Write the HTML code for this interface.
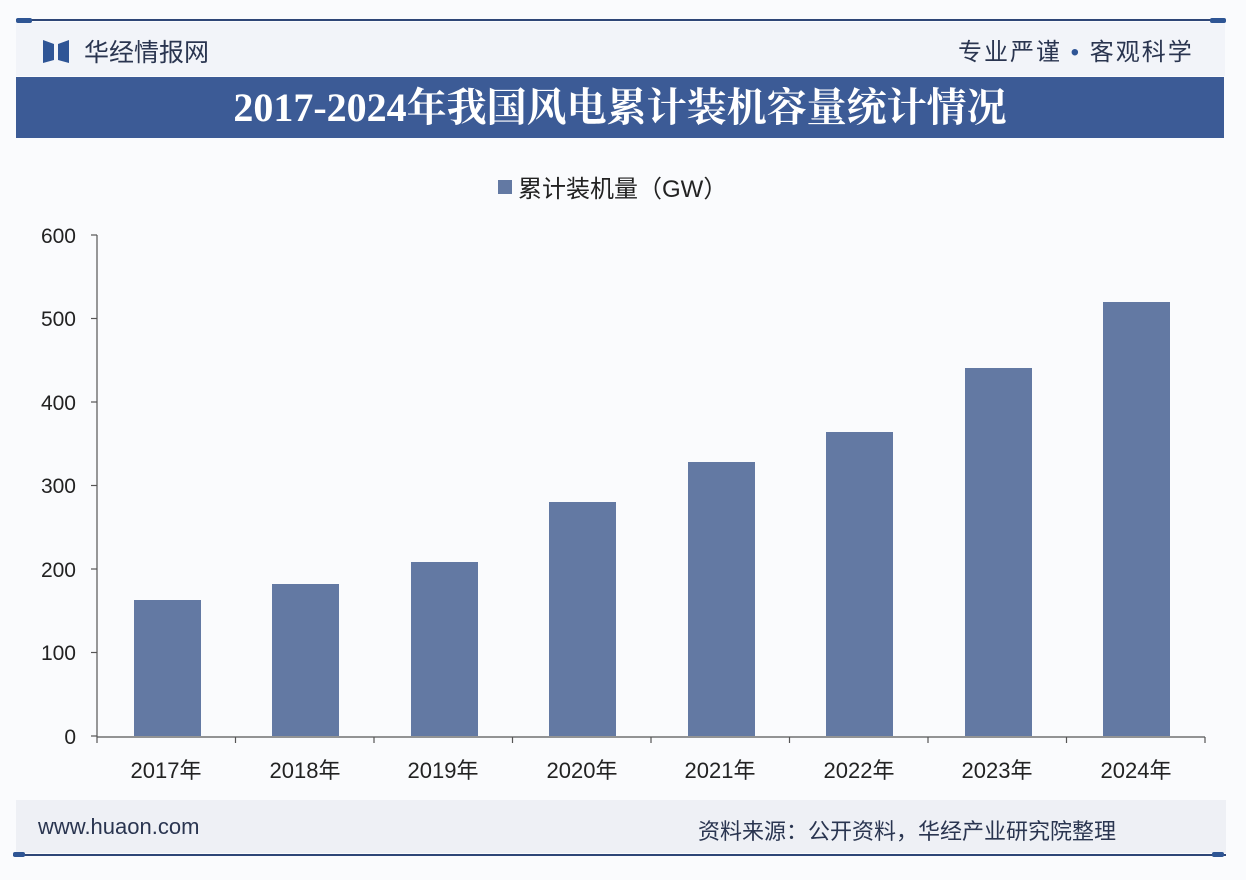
<!DOCTYPE html>
<html><head><meta charset="utf-8"><style>
body{margin:0;width:1246px;height:880px;background:#fafbfd;position:relative;overflow:hidden;font-family:"Liberation Sans","Noto Sans CJK SC",sans-serif}
.abs{position:absolute}
</style></head><body>
<div class="abs" style="left:16px;top:22px;width:1209px;height:54px;background:#f2f4f9"></div>
<div class="abs" style="left:16px;top:19px;width:1209px;height:2px;background:#2e4677"></div>
<div class="abs" style="left:16px;top:18px;width:16px;height:5px;border-radius:2px;background:#2e5594"></div>
<div class="abs" style="left:1210px;top:18px;width:16px;height:5px;border-radius:2px;background:#2e5594"></div>
<svg class="abs" style="left:43px;top:38px" width="28" height="26"><polygon points="0,2 11,6 11,22 0,25" fill="#2f5596"/><polygon points="26,2 15,6 15,22 26,25" fill="#2f5596"/></svg>
<div class="abs" style="left:84px;top:33px;font-size:25px;color:#2a3550">华经情报网</div>
<div class="abs" style="left:958px;top:32px;font-size:24px;color:#2a3550;letter-spacing:2px">专业严谨 <span style="color:#2f5596">•</span> 客观科学</div>
<div class="abs" style="left:16px;top:77px;width:1208px;height:61px;background:#3c5b96"></div>
<div class="abs" style="left:16px;top:84px;width:1208px;text-align:center;font-family:'Liberation Serif','Noto Serif CJK SC',serif;font-weight:bold;font-size:40px;color:#fff;line-height:48px">2017-2024年我国风电累计装机容量统计情况</div>
<div class="abs" style="left:16px;top:800px;width:1210px;height:53px;background:#eef0f5"></div>
<div class="abs" style="left:38px;top:814px;font-size:22px;color:#2a3550">www.huaon.com</div>
<div class="abs" style="left:698px;top:814px;font-size:22px;color:#2a3550">资料来源：公开资料，华经产业研究院整理</div>
<div class="abs" style="left:13px;top:854px;width:1213px;height:2px;background:#2e4677"></div>
<div class="abs" style="left:13px;top:852px;width:12px;height:5px;border-radius:2px;background:#2e5594"></div>
<div class="abs" style="left:1212px;top:852px;width:12px;height:5px;border-radius:2px;background:#2e5594"></div>
<svg class="abs" style="left:0;top:0" width="1246" height="880" font-family="Liberation Sans, Noto Sans CJK SC, sans-serif">
<rect x="498" y="180" width="14" height="14" fill="#6379a3"/>
<text x="518" y="197" font-size="24" fill="#222">累计装机量（GW）</text>
<g fill="#222" font-size="21" text-anchor="end">
<text x="76" y="243">600</text><text x="76" y="326">500</text><text x="76" y="410">400</text><text x="76" y="493">300</text><text x="76" y="577">200</text><text x="76" y="660">100</text><text x="76" y="744">0</text></g>
<g stroke="#555" stroke-width="1.2">
<line x1="97" y1="235" x2="97" y2="737"/><line x1="97" y1="737" x2="1205" y2="737"/>
<line x1="91" y1="235" x2="97" y2="235"/><line x1="91" y1="318.5" x2="97" y2="318.5"/><line x1="91" y1="402" x2="97" y2="402"/><line x1="91" y1="485.5" x2="97" y2="485.5"/><line x1="91" y1="569" x2="97" y2="569"/><line x1="91" y1="652.5" x2="97" y2="652.5"/><line x1="91" y1="736" x2="97" y2="736"/>
<line x1="235.5" y1="737" x2="235.5" y2="743"/><line x1="374" y1="737" x2="374" y2="743"/><line x1="512.5" y1="737" x2="512.5" y2="743"/><line x1="651" y1="737" x2="651" y2="743"/><line x1="789.5" y1="737" x2="789.5" y2="743"/><line x1="928" y1="737" x2="928" y2="743"/><line x1="1066.5" y1="737" x2="1066.5" y2="743"/><line x1="1205" y1="737" x2="1205" y2="743"/><line x1="97" y1="737" x2="97" y2="743"/>
</g>
<g fill="#6379a3">
<rect x="134" y="600" width="67" height="136"/><rect x="272" y="584" width="67" height="152"/><rect x="411" y="562" width="67" height="174"/><rect x="549" y="502" width="67" height="234"/><rect x="688" y="462" width="67" height="274"/><rect x="826" y="432" width="67" height="304"/><rect x="965" y="368" width="67" height="368"/><rect x="1103" y="302" width="67" height="434"/>
</g>
<g fill="#222" font-size="22" text-anchor="middle">
<text x="166" y="778">2017年</text><text x="305" y="778">2018年</text><text x="443" y="778">2019年</text><text x="582" y="778">2020年</text><text x="720" y="778">2021年</text><text x="859" y="778">2022年</text><text x="997" y="778">2023年</text><text x="1136" y="778">2024年</text>
</g>
</svg>
</body></html>
